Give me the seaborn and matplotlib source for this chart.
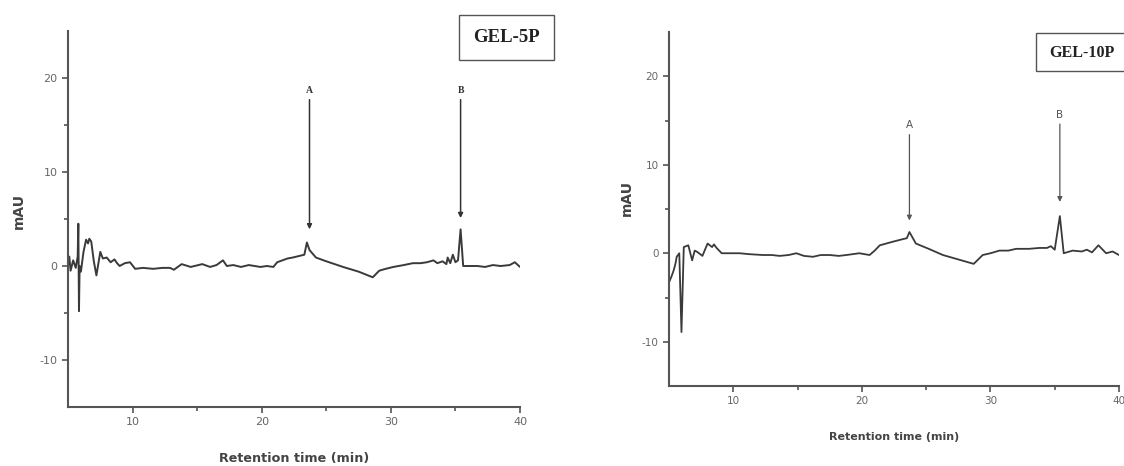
import matplotlib
matplotlib.use("Agg")
import matplotlib.pyplot as plt
import seaborn as sns
import pandas as pd
from matplotlib.patches import Rectangle

# ---------------- data ----------------
gel5_time = [5.0, 5.1, 5.2, 5.4, 5.6, 5.75, 5.8, 5.85, 5.9, 6.0, 6.2, 6.4, 6.55, 6.65, 6.8, 7.0, 7.2,
             7.5, 7.7, 8.0, 8.3, 8.6, 8.8, 9.0, 9.4, 9.8, 10.2, 10.8, 11.6, 12.3, 12.9, 13.2, 13.8, 14.5,
             15.4, 16.0, 16.5, 17.0, 17.3, 17.8, 18.4, 19.0, 19.9, 20.4, 20.9, 21.2, 21.6, 22.0, 22.4,
             23.0, 23.3, 23.5, 23.7, 24.2, 25.0, 26.3, 27.5, 28.6, 29.1, 29.6, 30.2, 31.0, 31.7, 32.3,
             32.8, 33.3, 33.6, 34.0, 34.3, 34.4, 34.6, 34.8, 35.0, 35.2, 35.4, 35.6, 36.0, 36.7, 37.3,
             37.9, 38.5, 39.2, 39.6, 40.0]
gel5_mau = [0.0, 1.0, -0.5, 0.6, -0.2, 1.0, 4.5, -4.8, 0.0, -0.6, 1.5, 2.8, 2.4, 2.9, 2.6, 0.5, -1.0,
            1.5, 0.8, 0.9, 0.4, 0.7, 0.3, 0.0, 0.3, 0.4, -0.3, -0.2, -0.3, -0.2, -0.2, -0.4, 0.2, -0.1,
            0.2, -0.1, 0.1, 0.6, 0.0, 0.1, -0.1, 0.1, -0.1, 0.0, -0.1, 0.4, 0.6, 0.8, 0.9,
            1.1, 1.2, 2.5, 1.7, 0.9, 0.5, -0.1, -0.6, -1.2, -0.5, -0.3, -0.1, 0.1, 0.3, 0.3,
            0.4, 0.6, 0.3, 0.5, 0.2, 0.9, 0.3, 1.2, 0.4, 0.6, 3.9, 0.0, 0.0, 0.0, -0.1,
            0.1, 0.0, 0.1, 0.4, -0.1]

gel10_time = [5.0, 5.2, 5.37, 5.5, 5.6, 5.8, 5.97, 6.15, 6.5, 6.8, 7.0, 7.2, 7.6, 8.0, 8.35, 8.5, 8.7,
              9.1, 9.8, 10.5, 11.2, 12.3, 13.0, 13.6, 14.3, 14.9, 15.5, 16.2, 16.8, 17.5, 18.2, 18.8,
              19.8, 20.6, 21.0, 21.4, 22.4, 23.2, 23.5, 23.7, 24.2, 25.2, 26.3, 27.5, 28.7, 29.4,
              30.0, 30.7, 31.4, 32.0, 33.0, 33.8, 34.4, 34.7, 35.0, 35.4, 35.7, 36.4, 37.1, 37.5,
              37.9, 38.4, 39.0, 39.5, 40.0]
gel10_mau = [-3.3, -2.6, -1.9, -1.2, -0.4, 0.0, -8.9, 0.7, 0.9, -0.8, 0.3, 0.15, -0.3, 1.1, 0.7, 1.0, 0.6,
             0.0, 0.0, 0.0, -0.1, -0.2, -0.2, -0.3, -0.2, 0.0, -0.3, -0.4, -0.2, -0.2, -0.3, -0.2,
             0.0, -0.2, 0.3, 0.9, 1.3, 1.6, 1.7, 2.4, 1.1, 0.5, -0.2, -0.7, -1.2, -0.2,
             0.0, 0.3, 0.3, 0.5, 0.5, 0.6, 0.6, 0.8, 0.4, 4.2, 0.0, 0.3, 0.2, 0.4,
             0.1, 0.9, 0.0, 0.2, -0.2]

panel_titles = ["GEL-5P", "GEL-10P"]
peak_labels = ["A", "B"]
x_major = [10, 20, 30, 40]
x_minor = [15, 25, 35]
y_major = [-10, 0, 10, 20]
y_minor = [-5, 5, 15]

# ---------------- figure ----------------
sns.set_style("ticks")
plt.rcParams['font.family'] = ['DejaVu Sans']
plt.rcParams['axes.unicode_minus'] = False

W, H = 1124, 466
fig = plt.figure(figsize=(W / 100, H / 100), dpi=100)

def fbox(x0, y0, x1, y1):
    return [x0 / W, 1 - y1 / H, (x1 - x0) / W, (y1 - y0) / H]

ax1 = fig.add_axes(fbox(68, 31, 520, 407))
ax2 = fig.add_axes(fbox(669, 32, 1119, 386))

line_col = "#3a3a3a"
axis_col = "#555555"

df1 = pd.DataFrame({"time": gel5_time, "mAU": gel5_mau})
df2 = pd.DataFrame({"time": gel10_time, "mAU": gel10_mau})

sns.lineplot(data=df1, x="time", y="mAU", ax=ax1, color=line_col, linewidth=1.4, estimator=None, sort=False)
sns.lineplot(data=df2, x="time", y="mAU", ax=ax2, color=line_col, linewidth=1.3, estimator=None, sort=False)

for ax, tfs, xlfs in [(ax1, 8, 9.2), (ax2, 7.5, 8)]:
    ax.set_xlim(5, 40)
    ax.set_ylim(-15, 25)
    ax.set_xticks(x_major)
    ax.set_xticks(x_minor, minor=True)
    ax.set_yticks(y_major)
    ax.set_yticks(y_minor, minor=True)
    sns.despine(ax=ax)
    for s in ["left", "bottom"]:
        ax.spines[s].set_color(axis_col)
        ax.spines[s].set_linewidth(1.5)
    ax.tick_params(which="both", direction="out", color=axis_col, width=1.2,
                   labelsize=tfs, labelcolor="#666666")
    ax.tick_params(which="major", length=4)
    ax.tick_params(which="minor", length=3)
    ax.set_xlabel("Retention time (min)", fontweight="bold", fontsize=xlfs, color="#444444")
    ax.set_ylabel("mAU", fontweight="bold", fontsize=10, color="#444444")

ax1.xaxis.set_label_coords(0.5, -0.12)
ax1.yaxis.set_label_coords(-0.093, 0.52)
ax2.xaxis.set_label_coords(0.5, -0.13)
ax2.yaxis.set_label_coords(-0.078, 0.53)

# peak arrows
arrow_kw = dict(arrowstyle="-|>", color="#333333", lw=1.1, mutation_scale=7, shrinkA=0, shrinkB=0)
# GEL-5P
for x, ytop, yhead, lab in [(23.7, 17.7, 3.9, "A"), (35.4, 17.7, 5.1, "B")]:
    ax1.annotate("", xy=(x, yhead), xytext=(x, ytop), arrowprops=arrow_kw)
    ax1.text(x, ytop + 0.5, lab, ha="center", va="bottom", fontsize=7, fontweight="bold",
             family="Liberation Serif", color="#333333")
# GEL-10P
arrow_kw2 = dict(arrow_kw, lw=0.9, color="#555555")
for x, ytop, yhead, lab in [(23.7, 13.4, 3.7, "A"), (35.4, 14.6, 5.8, "B")]:
    ax2.annotate("", xy=(x, yhead), xytext=(x, ytop), arrowprops=arrow_kw2)
    ax2.text(x, ytop + 0.5, lab, ha="center", va="bottom", fontsize=7.5,
             color="#555555")

# title boxes
fig.patches.append(Rectangle((459 / W, 1 - 60 / H), 95 / W, 45 / H, transform=fig.transFigure,
                             fill=False, edgecolor="#555555", linewidth=1.0))
fig.text(506 / W, 1 - 38 / H, panel_titles[0], ha="center", va="center", fontsize=13.5,
         fontweight="bold", family="Liberation Serif", color="#222222")
fig.patches.append(Rectangle((1036 / W, 1 - 71 / H), 100 / W, 38 / H, transform=fig.transFigure,
                             fill=False, edgecolor="#555555", linewidth=1.0, clip_on=False))
fig.text(1082 / W, 1 - 53 / H, panel_titles[1], ha="center", va="center", fontsize=11.5,
         fontweight="bold", family="Liberation Serif", color="#222222")

fig.savefig("out.png", dpi=100)
